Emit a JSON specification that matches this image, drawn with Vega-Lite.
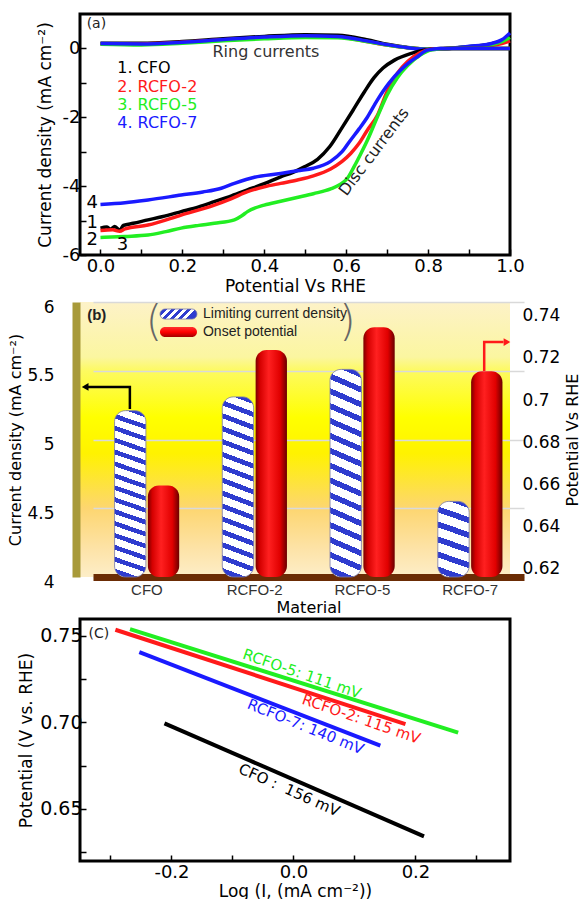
{
  "$schema": "https://vega.github.io/schema/vega-lite/v6.json",
  "padding": {"left": 7, "top": 12, "right": 0, "bottom": 0},
  "spacing": 2,
  "config": {
    "font": "DejaVu Sans",
    "view": {"stroke": null},
    "axis": {"labelFont": "DejaVu Sans", "titleFont": "DejaVu Sans", "labelColor": "black", "titleColor": "black", "titleFontWeight": "normal"}
  },
  "datasets": {
    "lsv": [
      {"s":"CFO","k":"ring","x":0,"y":0.15},{"s":"CFO","k":"ring","x":0.1,"y":0.15},{"s":"CFO","k":"ring","x":0.2,"y":0.2},{"s":"CFO","k":"ring","x":0.3,"y":0.28},{"s":"CFO","k":"ring","x":0.4,"y":0.35},{"s":"CFO","k":"ring","x":0.5,"y":0.4},{"s":"CFO","k":"ring","x":0.58,"y":0.38},{"s":"CFO","k":"ring","x":0.65,"y":0.25},{"s":"CFO","k":"ring","x":0.7,"y":0.12},{"s":"CFO","k":"ring","x":0.75,"y":0.03},{"s":"CFO","k":"ring","x":0.8,"y":-0.02},{"s":"CFO","k":"ring","x":0.85,"y":0},{"s":"CFO","k":"ring","x":0.9,"y":0.05},{"s":"CFO","k":"ring","x":0.95,"y":0.12},{"s":"CFO","k":"ring","x":0.98,"y":0.22},{"s":"CFO","k":"ring","x":1.0,"y":0.32},
      {"s":"RCFO-2","k":"ring","x":0,"y":0.13},{"s":"RCFO-2","k":"ring","x":0.1,"y":0.13},{"s":"RCFO-2","k":"ring","x":0.2,"y":0.18},{"s":"RCFO-2","k":"ring","x":0.3,"y":0.25},{"s":"RCFO-2","k":"ring","x":0.4,"y":0.31},{"s":"RCFO-2","k":"ring","x":0.5,"y":0.35},{"s":"RCFO-2","k":"ring","x":0.58,"y":0.33},{"s":"RCFO-2","k":"ring","x":0.65,"y":0.2},{"s":"RCFO-2","k":"ring","x":0.7,"y":0.1},{"s":"RCFO-2","k":"ring","x":0.75,"y":0.02},{"s":"RCFO-2","k":"ring","x":0.8,"y":-0.02},{"s":"RCFO-2","k":"ring","x":0.85,"y":0},{"s":"RCFO-2","k":"ring","x":0.9,"y":0.04},{"s":"RCFO-2","k":"ring","x":0.95,"y":0.08},{"s":"RCFO-2","k":"ring","x":0.98,"y":0.14},{"s":"RCFO-2","k":"ring","x":1.0,"y":0.22},
      {"s":"RCFO-5","k":"ring","x":0,"y":0.12},{"s":"RCFO-5","k":"ring","x":0.1,"y":0.1},{"s":"RCFO-5","k":"ring","x":0.2,"y":0.15},{"s":"RCFO-5","k":"ring","x":0.3,"y":0.22},{"s":"RCFO-5","k":"ring","x":0.4,"y":0.28},{"s":"RCFO-5","k":"ring","x":0.5,"y":0.32},{"s":"RCFO-5","k":"ring","x":0.58,"y":0.31},{"s":"RCFO-5","k":"ring","x":0.65,"y":0.2},{"s":"RCFO-5","k":"ring","x":0.7,"y":0.1},{"s":"RCFO-5","k":"ring","x":0.75,"y":0.02},{"s":"RCFO-5","k":"ring","x":0.8,"y":-0.02},{"s":"RCFO-5","k":"ring","x":0.85,"y":0},{"s":"RCFO-5","k":"ring","x":0.9,"y":0.05},{"s":"RCFO-5","k":"ring","x":0.95,"y":0.1},{"s":"RCFO-5","k":"ring","x":0.98,"y":0.2},{"s":"RCFO-5","k":"ring","x":1.0,"y":0.32},
      {"s":"RCFO-7","k":"ring","x":0,"y":0.14},{"s":"RCFO-7","k":"ring","x":0.1,"y":0.13},{"s":"RCFO-7","k":"ring","x":0.2,"y":0.18},{"s":"RCFO-7","k":"ring","x":0.3,"y":0.26},{"s":"RCFO-7","k":"ring","x":0.4,"y":0.33},{"s":"RCFO-7","k":"ring","x":0.5,"y":0.37},{"s":"RCFO-7","k":"ring","x":0.58,"y":0.35},{"s":"RCFO-7","k":"ring","x":0.65,"y":0.22},{"s":"RCFO-7","k":"ring","x":0.7,"y":0.11},{"s":"RCFO-7","k":"ring","x":0.75,"y":0.02},{"s":"RCFO-7","k":"ring","x":0.8,"y":-0.03},{"s":"RCFO-7","k":"ring","x":0.85,"y":0},{"s":"RCFO-7","k":"ring","x":0.9,"y":0.06},{"s":"RCFO-7","k":"ring","x":0.95,"y":0.13},{"s":"RCFO-7","k":"ring","x":0.98,"y":0.25},{"s":"RCFO-7","k":"ring","x":1.0,"y":0.45},
      {"s":"CFO","k":"disc","x":0,"y":-5.22},{"s":"CFO","k":"disc","x":0.015,"y":-5.19},{"s":"CFO","k":"disc","x":0.025,"y":-5.25},{"s":"CFO","k":"disc","x":0.035,"y":-5.17},{"s":"CFO","k":"disc","x":0.047,"y":-5.28},{"s":"CFO","k":"disc","x":0.056,"y":-5.14},{"s":"CFO","k":"disc","x":0.08,"y":-5.08},{"s":"CFO","k":"disc","x":0.116,"y":-4.98},{"s":"CFO","k":"disc","x":0.15,"y":-4.89},{"s":"CFO","k":"disc","x":0.197,"y":-4.74},{"s":"CFO","k":"disc","x":0.24,"y":-4.6},{"s":"CFO","k":"disc","x":0.278,"y":-4.45},{"s":"CFO","k":"disc","x":0.32,"y":-4.28},{"s":"CFO","k":"disc","x":0.359,"y":-4.11},{"s":"CFO","k":"disc","x":0.4,"y":-3.93},{"s":"CFO","k":"disc","x":0.44,"y":-3.73},{"s":"CFO","k":"disc","x":0.47,"y":-3.6},{"s":"CFO","k":"disc","x":0.498,"y":-3.44},{"s":"CFO","k":"disc","x":0.53,"y":-3.22},{"s":"CFO","k":"disc","x":0.56,"y":-2.85},{"s":"CFO","k":"disc","x":0.59,"y":-2.3},{"s":"CFO","k":"disc","x":0.619,"y":-1.75},{"s":"CFO","k":"disc","x":0.645,"y":-1.25},{"s":"CFO","k":"disc","x":0.668,"y":-0.85},{"s":"CFO","k":"disc","x":0.69,"y":-0.57},{"s":"CFO","k":"disc","x":0.718,"y":-0.34},{"s":"CFO","k":"disc","x":0.757,"y":-0.15},{"s":"CFO","k":"disc","x":0.79,"y":-0.05},{"s":"CFO","k":"disc","x":0.83,"y":0},{"s":"CFO","k":"disc","x":0.9,"y":0},{"s":"CFO","k":"disc","x":1.0,"y":0},
      {"s":"RCFO-2","k":"disc","x":0,"y":-5.29},{"s":"RCFO-2","k":"disc","x":0.03,"y":-5.27},{"s":"RCFO-2","k":"disc","x":0.047,"y":-5.31},{"s":"RCFO-2","k":"disc","x":0.06,"y":-5.24},{"s":"RCFO-2","k":"disc","x":0.116,"y":-5.13},{"s":"RCFO-2","k":"disc","x":0.197,"y":-4.84},{"s":"RCFO-2","k":"disc","x":0.278,"y":-4.55},{"s":"RCFO-2","k":"disc","x":0.32,"y":-4.36},{"s":"RCFO-2","k":"disc","x":0.359,"y":-4.16},{"s":"RCFO-2","k":"disc","x":0.4,"y":-4.02},{"s":"RCFO-2","k":"disc","x":0.44,"y":-3.92},{"s":"RCFO-2","k":"disc","x":0.481,"y":-3.82},{"s":"RCFO-2","k":"disc","x":0.52,"y":-3.7},{"s":"RCFO-2","k":"disc","x":0.562,"y":-3.5},{"s":"RCFO-2","k":"disc","x":0.59,"y":-3.28},{"s":"RCFO-2","k":"disc","x":0.611,"y":-3.05},{"s":"RCFO-2","k":"disc","x":0.632,"y":-2.75},{"s":"RCFO-2","k":"disc","x":0.652,"y":-2.37},{"s":"RCFO-2","k":"disc","x":0.676,"y":-1.95},{"s":"RCFO-2","k":"disc","x":0.7,"y":-1.25},{"s":"RCFO-2","k":"disc","x":0.725,"y":-0.72},{"s":"RCFO-2","k":"disc","x":0.75,"y":-0.38},{"s":"RCFO-2","k":"disc","x":0.78,"y":-0.13},{"s":"RCFO-2","k":"disc","x":0.81,"y":-0.02},{"s":"RCFO-2","k":"disc","x":0.85,"y":0},{"s":"RCFO-2","k":"disc","x":1.0,"y":0},
      {"s":"RCFO-5","k":"disc","x":0,"y":-5.49},{"s":"RCFO-5","k":"disc","x":0.06,"y":-5.46},{"s":"RCFO-5","k":"disc","x":0.116,"y":-5.42},{"s":"RCFO-5","k":"disc","x":0.16,"y":-5.32},{"s":"RCFO-5","k":"disc","x":0.197,"y":-5.22},{"s":"RCFO-5","k":"disc","x":0.24,"y":-5.14},{"s":"RCFO-5","k":"disc","x":0.278,"y":-5.08},{"s":"RCFO-5","k":"disc","x":0.327,"y":-4.98},{"s":"RCFO-5","k":"disc","x":0.345,"y":-4.86},{"s":"RCFO-5","k":"disc","x":0.359,"y":-4.74},{"s":"RCFO-5","k":"disc","x":0.4,"y":-4.55},{"s":"RCFO-5","k":"disc","x":0.44,"y":-4.44},{"s":"RCFO-5","k":"disc","x":0.48,"y":-4.33},{"s":"RCFO-5","k":"disc","x":0.52,"y":-4.22},{"s":"RCFO-5","k":"disc","x":0.562,"y":-4.08},{"s":"RCFO-5","k":"disc","x":0.585,"y":-3.95},{"s":"RCFO-5","k":"disc","x":0.603,"y":-3.77},{"s":"RCFO-5","k":"disc","x":0.619,"y":-3.44},{"s":"RCFO-5","k":"disc","x":0.636,"y":-3.05},{"s":"RCFO-5","k":"disc","x":0.652,"y":-2.66},{"s":"RCFO-5","k":"disc","x":0.676,"y":-1.99},{"s":"RCFO-5","k":"disc","x":0.7,"y":-1.35},{"s":"RCFO-5","k":"disc","x":0.725,"y":-0.85},{"s":"RCFO-5","k":"disc","x":0.75,"y":-0.5},{"s":"RCFO-5","k":"disc","x":0.78,"y":-0.2},{"s":"RCFO-5","k":"disc","x":0.81,"y":-0.04},{"s":"RCFO-5","k":"disc","x":0.85,"y":0},{"s":"RCFO-5","k":"disc","x":1.0,"y":0},
      {"s":"RCFO-7","k":"disc","x":0,"y":-4.53},{"s":"RCFO-7","k":"disc","x":0.06,"y":-4.48},{"s":"RCFO-7","k":"disc","x":0.116,"y":-4.4},{"s":"RCFO-7","k":"disc","x":0.197,"y":-4.26},{"s":"RCFO-7","k":"disc","x":0.25,"y":-4.17},{"s":"RCFO-7","k":"disc","x":0.295,"y":-4.06},{"s":"RCFO-7","k":"disc","x":0.327,"y":-3.92},{"s":"RCFO-7","k":"disc","x":0.376,"y":-3.74},{"s":"RCFO-7","k":"disc","x":0.44,"y":-3.63},{"s":"RCFO-7","k":"disc","x":0.481,"y":-3.55},{"s":"RCFO-7","k":"disc","x":0.52,"y":-3.48},{"s":"RCFO-7","k":"disc","x":0.562,"y":-3.28},{"s":"RCFO-7","k":"disc","x":0.59,"y":-3.0},{"s":"RCFO-7","k":"disc","x":0.611,"y":-2.66},{"s":"RCFO-7","k":"disc","x":0.632,"y":-2.33},{"s":"RCFO-7","k":"disc","x":0.652,"y":-1.99},{"s":"RCFO-7","k":"disc","x":0.676,"y":-1.5},{"s":"RCFO-7","k":"disc","x":0.705,"y":-1.0},{"s":"RCFO-7","k":"disc","x":0.733,"y":-0.63},{"s":"RCFO-7","k":"disc","x":0.755,"y":-0.4},{"s":"RCFO-7","k":"disc","x":0.774,"y":-0.24},{"s":"RCFO-7","k":"disc","x":0.798,"y":-0.05},{"s":"RCFO-7","k":"disc","x":0.83,"y":0},{"s":"RCFO-7","k":"disc","x":1.0,"y":0}
    ],
    "bars": [
      {"m":"CFO","sr":"Limiting current density","v":5.21},
      {"m":"RCFO-2","sr":"Limiting current density","v":5.31},
      {"m":"RCFO-5","sr":"Limiting current density","v":5.51},
      {"m":"RCFO-7","sr":"Limiting current density","v":4.55},
      {"m":"CFO","sr":"Onset potential","v":0.6595},
      {"m":"RCFO-2","sr":"Onset potential","v":0.7237},
      {"m":"RCFO-5","sr":"Onset potential","v":0.7345},
      {"m":"RCFO-7","sr":"Onset potential","v":0.7137}
    ],
    "tafel": [
      {"s":"CFO","x":-0.2115,"y":0.6994},{"s":"CFO","x":0.214,"y":0.6342},
      {"s":"RCFO-7","x":-0.2527,"y":0.7405},{"s":"RCFO-7","x":0.1424,"y":0.6865},
      {"s":"RCFO-2","x":-0.292,"y":0.7534},{"s":"RCFO-2","x":0.1836,"y":0.699},
      {"s":"RCFO-5","x":-0.268,"y":0.7538},{"s":"RCFO-5","x":0.27,"y":0.6941}
    ]
  },
  "vconcat": [
    {
      "width": 430,
      "height": 241,
      "view": {"stroke": "black", "strokeWidth": 3},
      "encoding": {
        "x": {"field": "x", "type": "quantitative",
          "scale": {"domain": [-0.05, 1], "nice": false, "zero": false},
          "axis": {"values": [0,0.1,0.2,0.3,0.4,0.5,0.6,0.7,0.8,0.9,1.0], "labelExpr": "abs(datum.value*5-round(datum.value*5))<0.001 ? format(datum.value,'.1f') : ''", "labelFlush": false, "labelOverlap": false, "grid": false, "domain": false, "tickSize": -6, "tickColor": "black", "tickWidth": 1.5, "labelPadding": 8, "labelFontSize": 18, "title": "Potential Vs RHE", "titleFontSize": 17, "titlePadding": 3}},
        "y": {"field": "y", "type": "quantitative",
          "scale": {"domain": [-6, 1], "nice": false, "zero": false},
          "axis": {"values": [-6,-5,-4,-3,-2,-1,0], "labelExpr": "datum.value % 2 == 0 ? replace(format(datum.value,'d'),'\u2212','-') : ''", "labelFlush": false, "labelOverlap": false, "grid": false, "domain": false, "tickSize": -6, "tickColor": "black", "tickWidth": 1.5, "labelPadding": 6, "labelFontSize": 18, "title": "Current density (mA cm\u207b\u00b2)", "titleFontSize": 17, "titlePadding": 8}}
      },
      "layer": [
        {"data": {"name": "lsv"},
         "mark": {"type": "line", "strokeWidth": 3.5, "interpolate": "monotone"},
         "encoding": {
           "color": {"field": "s", "type": "nominal", "scale": {"domain": ["CFO","RCFO-2","RCFO-5","RCFO-7"], "range": ["#000000","#ff1a1a","#22ee22","#1a1aff"]}, "legend": null},
           "detail": {"field": "k"}
         }},
        {"data": {"values": [
           {"t":"1. CFO","s":"CFO","x":0.041,"y":-0.58},
           {"t":"2. RCFO-2","s":"RCFO-2","x":0.041,"y":-1.11},
           {"t":"3. RCFO-5","s":"RCFO-5","x":0.041,"y":-1.63},
           {"t":"4. RCFO-7","s":"RCFO-7","x":0.041,"y":-2.18}]},
         "mark": {"type": "text", "align": "left", "fontSize": 16},
         "encoding": {
           "text": {"field": "t"},
           "color": {"field": "s", "type": "nominal", "scale": {"domain": ["CFO","RCFO-2","RCFO-5","RCFO-7"], "range": ["#000000","#ff1a1a","#22ee22","#1a1aff"]}, "legend": null}
         }},
        {"data": {"values": [
           {"t":"4","x":-0.02,"y":-4.5},{"t":"1","x":-0.02,"y":-5.06},{"t":"2","x":-0.02,"y":-5.55},{"t":"3","x":0.054,"y":-5.71}]},
         "mark": {"type": "text", "fontSize": 18, "color": "black"},
         "encoding": {"text": {"field": "t"}}},
        {"data": {"values": [{"t":"Ring currents","x":0.404,"y":-0.1}]},
         "mark": {"type": "text", "fontSize": 16, "color": "#333333"},
         "encoding": {"text": {"field": "t"}}},
        {"data": {"values": [{"t":"Disc currents","x":0.668,"y":-3.0}]},
         "mark": {"type": "text", "fontSize": 16, "color": "#222222", "angle": -53},
         "encoding": {"text": {"field": "t"}}},
        {"data": {"values": [{"t":"(a)","x":-0.01,"y":0.7}]},
         "mark": {"type": "text", "fontSize": 14, "color": "#222222"},
         "encoding": {"text": {"field": "t"}}}
      ]
    },
    {
      "width": 430,
      "height": 275,
      "view": {"stroke": null, "fill": {"gradient": "linear", "x1": 0, "y1": 0, "x2": 0, "y2": 1, "stops": [
        {"offset": 0, "color": "#fdf2c8"}, {"offset": 0.2, "color": "#fbf6a0"}, {"offset": 0.25, "color": "#fdfa60"}, {"offset": 0.42, "color": "#ffff00"}, {"offset": 0.55, "color": "#fff200"}, {"offset": 0.75, "color": "#fdd670"}, {"offset": 0.9, "color": "#fde3a8"}, {"offset": 1, "color": "#fdeec8"}]}},
      "resolve": {"scale": {"x": "independent", "y": "independent", "xOffset": "independent"}},
      "layer": [
        {"data": {"name": "bars"},
         "transform": [{"filter": "datum.sr == 'Limiting current density' && datum.m != 'RCFO-7'"}],
         "mark": {"type": "bar", "cornerRadius": 11, "stroke": "#7878a8", "strokeWidth": 0.8,
           "fill": {"gradient": "linear", "x1": 0.07, "y1": -0.07, "x2": 0, "y2": 1, "stops": [
             {"offset":0,"color":"#ffffff"},{"offset":0.02,"color":"#ffffff"},{"offset":0.02,"color":"#2f3ccf"},{"offset":0.0467,"color":"#2f3ccf"},{"offset":0.0467,"color":"#ffffff"},{"offset":0.0867,"color":"#ffffff"},
             {"offset":0.0867,"color":"#2f3ccf"},{"offset":0.1133,"color":"#2f3ccf"},{"offset":0.1133,"color":"#ffffff"},{"offset":0.1533,"color":"#ffffff"},
             {"offset":0.1533,"color":"#2f3ccf"},{"offset":0.18,"color":"#2f3ccf"},{"offset":0.18,"color":"#ffffff"},{"offset":0.22,"color":"#ffffff"},
             {"offset":0.22,"color":"#2f3ccf"},{"offset":0.2467,"color":"#2f3ccf"},{"offset":0.2467,"color":"#ffffff"},{"offset":0.2867,"color":"#ffffff"},
             {"offset":0.2867,"color":"#2f3ccf"},{"offset":0.3133,"color":"#2f3ccf"},{"offset":0.3133,"color":"#ffffff"},{"offset":0.3533,"color":"#ffffff"},
             {"offset":0.3533,"color":"#2f3ccf"},{"offset":0.38,"color":"#2f3ccf"},{"offset":0.38,"color":"#ffffff"},{"offset":0.42,"color":"#ffffff"},
             {"offset":0.42,"color":"#2f3ccf"},{"offset":0.4467,"color":"#2f3ccf"},{"offset":0.4467,"color":"#ffffff"},{"offset":0.4867,"color":"#ffffff"},
             {"offset":0.4867,"color":"#2f3ccf"},{"offset":0.5133,"color":"#2f3ccf"},{"offset":0.5133,"color":"#ffffff"},{"offset":0.5533,"color":"#ffffff"},
             {"offset":0.5533,"color":"#2f3ccf"},{"offset":0.58,"color":"#2f3ccf"},{"offset":0.58,"color":"#ffffff"},{"offset":0.62,"color":"#ffffff"},
             {"offset":0.62,"color":"#2f3ccf"},{"offset":0.6467,"color":"#2f3ccf"},{"offset":0.6467,"color":"#ffffff"},{"offset":0.6867,"color":"#ffffff"},
             {"offset":0.6867,"color":"#2f3ccf"},{"offset":0.7133,"color":"#2f3ccf"},{"offset":0.7133,"color":"#ffffff"},{"offset":0.7533,"color":"#ffffff"},
             {"offset":0.7533,"color":"#2f3ccf"},{"offset":0.78,"color":"#2f3ccf"},{"offset":0.78,"color":"#ffffff"},{"offset":0.82,"color":"#ffffff"},
             {"offset":0.82,"color":"#2f3ccf"},{"offset":0.8467,"color":"#2f3ccf"},{"offset":0.8467,"color":"#ffffff"},{"offset":0.8867,"color":"#ffffff"},
             {"offset":0.8867,"color":"#2f3ccf"},{"offset":0.9133,"color":"#2f3ccf"},{"offset":0.9133,"color":"#ffffff"},{"offset":0.9533,"color":"#ffffff"},
             {"offset":0.9533,"color":"#2f3ccf"},{"offset":0.98,"color":"#2f3ccf"},{"offset":0.98,"color":"#ffffff"},{"offset":1,"color":"#ffffff"}]}},
         "encoding": {
           "x": {"field": "m", "type": "nominal", "scale": {"domain": ["CFO","RCFO-2","RCFO-5","RCFO-7"], "range": [13, 444], "paddingInner": 0.4, "paddingOuter": 0.2},
             "axis": {"title": "Material", "labelAngle": 0, "labelFont": "Liberation Sans", "labelFontSize": 15, "labelColor": "#333333", "ticks": false, "domainColor": "#6b2c05", "domainWidth": 7, "labelPadding": 5, "titleFontSize": 16, "titlePadding": 2}},
           "xOffset": {"field": "sr", "scale": {"domain": ["Limiting current density","Onset potential"], "paddingInner": 0.06}},
           "y": {"field": "v", "type": "quantitative", "scale": {"domain": [4, 6], "nice": false, "zero": false},
             "axis": {"orient": "left", "values": [4,4.5,5,5.5,6], "format": "~g", "grid": true, "gridColor": "#d9d9d9", "gridWidth": 1.5, "ticks": false, "domainColor": "#a89a3a", "domainWidth": 8, "offset": 4, "labelPadding": 22, "labelOffset": 5, "labelFontSize": 17, "title": "Current density (mA cm\u207b\u00b2)", "titleFontSize": 16, "titlePadding": 3}},
           "y2": {"datum": 4}
         }},
        {"data": {"name": "bars"},
         "transform": [{"filter": "datum.sr == 'Limiting current density' && datum.m == 'RCFO-7'"}],
         "mark": {"type": "bar", "cornerRadius": 11, "stroke": "#7878a8", "strokeWidth": 0.8,
           "fill": {"gradient": "linear", "x1": 0.17, "y1": -0.17, "x2": 0, "y2": 1, "stops": [
             {"offset":0,"color":"#ffffff"},{"offset":0.05,"color":"#ffffff"},{"offset":0.05,"color":"#2f3ccf"},{"offset":0.1167,"color":"#2f3ccf"},{"offset":0.1167,"color":"#ffffff"},{"offset":0.2167,"color":"#ffffff"},
             {"offset":0.2167,"color":"#2f3ccf"},{"offset":0.2833,"color":"#2f3ccf"},{"offset":0.2833,"color":"#ffffff"},{"offset":0.3833,"color":"#ffffff"},
             {"offset":0.3833,"color":"#2f3ccf"},{"offset":0.45,"color":"#2f3ccf"},{"offset":0.45,"color":"#ffffff"},{"offset":0.55,"color":"#ffffff"},
             {"offset":0.55,"color":"#2f3ccf"},{"offset":0.6167,"color":"#2f3ccf"},{"offset":0.6167,"color":"#ffffff"},{"offset":0.7167,"color":"#ffffff"},
             {"offset":0.7167,"color":"#2f3ccf"},{"offset":0.7833,"color":"#2f3ccf"},{"offset":0.7833,"color":"#ffffff"},{"offset":0.8833,"color":"#ffffff"},
             {"offset":0.8833,"color":"#2f3ccf"},{"offset":0.95,"color":"#2f3ccf"},{"offset":0.95,"color":"#ffffff"},{"offset":1,"color":"#ffffff"}]}},
         "encoding": {
           "x": {"field": "m", "type": "nominal", "scale": {"domain": ["CFO","RCFO-2","RCFO-5","RCFO-7"], "range": [13, 444], "paddingInner": 0.4, "paddingOuter": 0.2}, "axis": null},
           "xOffset": {"field": "sr", "scale": {"domain": ["Limiting current density","Onset potential"], "paddingInner": 0.06}},
           "y": {"field": "v", "type": "quantitative", "scale": {"domain": [4, 6], "nice": false, "zero": false}, "axis": null},
           "y2": {"datum": 4}
         }},
        {"data": {"name": "bars"},
         "transform": [{"filter": "datum.sr == 'Onset potential'"}],
         "mark": {"type": "bar", "cornerRadius": 11,
           "fill": {"gradient": "linear", "x1": 0, "y1": 0, "x2": 1, "y2": 0, "stops": [
             {"offset": 0, "color": "#7a0000"}, {"offset": 0.14, "color": "#d40000"}, {"offset": 0.42, "color": "#ff2020"}, {"offset": 0.78, "color": "#e00000"}, {"offset": 1, "color": "#6a0000"}]}},
         "encoding": {
           "x": {"field": "m", "type": "nominal", "scale": {"domain": ["CFO","RCFO-2","RCFO-5","RCFO-7"], "range": [13, 444], "paddingInner": 0.4, "paddingOuter": 0.2}, "axis": null},
           "xOffset": {"field": "sr", "scale": {"domain": ["Limiting current density","Onset potential"], "paddingInner": 0.06}},
           "y": {"field": "v", "type": "quantitative", "scale": {"domain": [0.6162, 0.7465], "nice": false, "zero": false},
             "axis": {"orient": "right", "values": [0.62,0.64,0.66,0.68,0.7,0.72,0.74], "format": "~g", "grid": false, "ticks": false, "domain": false, "labelPadding": 12, "labelFontSize": 17, "title": "Potential Vs RHE", "titleFontSize": 16, "titlePadding": 5, "titleAngle": 270, "titleBaseline": "top"}},
           "y2": {"datum": 0.6162}
         }},
        {"data": {"values": [
           {"g":"blue","o":1,"x":0.116,"y":5.222},{"g":"blue","o":2,"x":0.116,"y":5.382},{"g":"blue","o":3,"x":0.015,"y":5.382},
           {"g":"red","o":1,"x":0.94,"y":5.498},{"g":"red","o":2,"x":0.94,"y":5.709},{"g":"red","o":3,"x":0.985,"y":5.709}]},
         "mark": {"type": "line", "strokeWidth": 2.5},
         "encoding": {
           "x": {"field": "x", "type": "quantitative", "scale": {"domain": [0, 1], "nice": false, "zero": false}, "axis": null},
           "y": {"field": "y", "type": "quantitative", "scale": {"domain": [4, 6], "nice": false, "zero": false}, "axis": null},
           "color": {"field": "g", "type": "nominal", "scale": {"domain": ["blue","red"], "range": ["#3a6896","#ff0000"]}, "legend": null},
           "order": {"field": "o"}
         }},
        {"data": {"values": [
           {"g":"blue","sh":"triangle-left","x":0.012,"y":5.382},
           {"g":"red","sh":"triangle-right","x":0.993,"y":5.709}]},
         "mark": {"type": "point", "filled": true, "opacity": 1, "size": 60},
         "encoding": {
           "x": {"field": "x", "type": "quantitative", "scale": {"domain": [0, 1], "nice": false, "zero": false}, "axis": null},
           "y": {"field": "y", "type": "quantitative", "scale": {"domain": [4, 6], "nice": false, "zero": false}, "axis": null},
           "color": {"field": "g", "type": "nominal", "scale": {"domain": ["blue","red"], "range": ["#3a6896","#ff0000"]}, "legend": null},
           "shape": {"field": "sh", "type": "nominal", "scale": {"domain": ["triangle-left","triangle-right"], "range": ["triangle-left","triangle-right"]}, "legend": null}
         }},
        {"data": {"values": [{"x":0.186,"x2":0.272,"y":5.876,"y2":5.949}]},
         "mark": {"type": "rect", "cornerRadius": 5, "stroke": "#7878a8", "strokeWidth": 0.8,
           "fill": {"gradient": "linear", "x1": 0, "y1": 0, "x2": 1, "y2": 0.27, "stops": [
             {"offset":0,"color":"#ffffff"},{"offset":0.1,"color":"#ffffff"},{"offset":0.1,"color":"#2f3ccf"},{"offset":0.2,"color":"#2f3ccf"},
             {"offset":0.2,"color":"#ffffff"},{"offset":0.3,"color":"#ffffff"},{"offset":0.3,"color":"#2f3ccf"},{"offset":0.4,"color":"#2f3ccf"},
             {"offset":0.4,"color":"#ffffff"},{"offset":0.5,"color":"#ffffff"},{"offset":0.5,"color":"#2f3ccf"},{"offset":0.6,"color":"#2f3ccf"},
             {"offset":0.6,"color":"#ffffff"},{"offset":0.7,"color":"#ffffff"},{"offset":0.7,"color":"#2f3ccf"},{"offset":0.8,"color":"#2f3ccf"},
             {"offset":0.8,"color":"#ffffff"},{"offset":0.9,"color":"#ffffff"},{"offset":0.9,"color":"#2f3ccf"},{"offset":1,"color":"#2f3ccf"}]}},
         "encoding": {
           "x": {"field": "x", "type": "quantitative", "scale": {"domain": [0, 1], "nice": false, "zero": false}, "axis": null},
           "x2": {"field": "x2"},
           "y": {"field": "y", "type": "quantitative", "scale": {"domain": [4, 6], "nice": false, "zero": false}, "axis": null},
           "y2": {"field": "y2"}
         }},
        {"data": {"values": [{"x":0.186,"x2":0.272,"y":5.745,"y2":5.818}]},
         "mark": {"type": "rect", "cornerRadius": 5,
           "fill": {"gradient": "linear", "x1": 0, "y1": 0, "x2": 0, "y2": 1, "stops": [
             {"offset": 0, "color": "#ff3030"}, {"offset": 0.5, "color": "#ff0000"}, {"offset": 1, "color": "#a00000"}]}},
         "encoding": {
           "x": {"field": "x", "type": "quantitative", "scale": {"domain": [0, 1], "nice": false, "zero": false}, "axis": null},
           "x2": {"field": "x2"},
           "y": {"field": "y", "type": "quantitative", "scale": {"domain": [4, 6], "nice": false, "zero": false}, "axis": null},
           "y2": {"field": "y2"}
         }},
        {"data": {"values": [
           {"t":"Limiting current density","x":0.286,"y":5.913},
           {"t":"Onset potential","x":0.286,"y":5.782}]},
         "mark": {"type": "text", "align": "left", "fontSize": 14, "font": "Liberation Sans", "color": "#222222"},
         "encoding": {
           "x": {"field": "x", "type": "quantitative", "scale": {"domain": [0, 1], "nice": false, "zero": false}, "axis": null},
           "y": {"field": "y", "type": "quantitative", "scale": {"domain": [4, 6], "nice": false, "zero": false}, "axis": null},
           "text": {"field": "t"}
         }},
        {"data": {"values": [
           {"t":"(","x":0.172,"y":5.85},
           {"t":")","x":0.622,"y":5.85}]},
         "mark": {"type": "text", "fontSize": 42, "font": "DejaVu Sans", "fontWeight": 200, "color": "#666666"},
         "encoding": {
           "x": {"field": "x", "type": "quantitative", "scale": {"domain": [0, 1], "nice": false, "zero": false}, "axis": null},
           "y": {"field": "y", "type": "quantitative", "scale": {"domain": [4, 6], "nice": false, "zero": false}, "axis": null},
           "text": {"field": "t"}
         }},
        {"data": {"values": [{"t":"(b)","x":0.039,"y":5.908}]},
         "mark": {"type": "text", "fontSize": 15, "fontWeight": "bold", "font": "Liberation Sans", "color": "#222222"},
         "encoding": {
           "x": {"field": "x", "type": "quantitative", "scale": {"domain": [0, 1], "nice": false, "zero": false}, "axis": null},
           "y": {"field": "y", "type": "quantitative", "scale": {"domain": [4, 6], "nice": false, "zero": false}, "axis": null},
           "text": {"field": "t"}
         }}
      ]
    },
    {
      "width": 430,
      "height": 242,
      "view": {"stroke": "black", "strokeWidth": 3},
      "encoding": {
        "x": {"field": "x", "type": "quantitative",
          "scale": {"domain": [-0.35, 0.355], "nice": false, "zero": false},
          "axis": {"values": [-0.3,-0.2,-0.1,0,0.1,0.2,0.3], "labelExpr": "abs(datum.value*5-round(datum.value*5))<0.001 ? replace(format(datum.value,'.1f'),'\u2212','-') : ''", "labelFlush": false, "labelOverlap": false, "grid": false, "domain": false, "tickSize": -6, "tickColor": "black", "tickWidth": 1.5, "labelPadding": 8, "labelFontSize": 18, "title": "Log (I, (mA cm\u207b\u00b2))", "titleFontSize": 17, "titlePadding": 2}},
        "y": {"field": "y", "type": "quantitative",
          "scale": {"domain": [0.62, 0.7596], "nice": false, "zero": false},
          "axis": {"values": [0.625,0.65,0.675,0.7,0.725,0.75], "labelExpr": "abs(datum.value*20-round(datum.value*20))<0.001 ? format(datum.value,'.2f') : ''", "labelFlush": false, "labelOverlap": false, "grid": false, "domain": false, "tickSize": -6, "tickColor": "black", "tickWidth": 1.5, "labelPadding": 4, "labelFontSize": 19, "title": "Potential (V vs. RHE)", "titleFontSize": 17, "titlePadding": 4}}
      },
      "layer": [
        {"data": {"name": "tafel"},
         "mark": {"type": "line", "strokeWidth": 4},
         "encoding": {
           "color": {"field": "s", "type": "nominal", "scale": {"domain": ["CFO","RCFO-2","RCFO-5","RCFO-7"], "range": ["#000000","#ff1a1a","#22ee22","#1a1aff"]}, "legend": null}
         }},
        {"data": {"values": [{"t":"RCFO-5: 111 mV","x":0.014,"y":0.728}]},
         "mark": {"type": "text", "fontSize": 15, "color": "#22ee22", "angle": 19},
         "encoding": {"text": {"field": "t"}}},
        {"data": {"values": [{"t":"RCFO-2: 115 mV","x":0.111,"y":0.702}]},
         "mark": {"type": "text", "fontSize": 15, "color": "#ff1a1a", "angle": 19},
         "encoding": {"text": {"field": "t"}}},
        {"data": {"values": [{"t":"RCFO-7: 140 mV","x":0.02,"y":0.6975}]},
         "mark": {"type": "text", "fontSize": 15, "color": "#1a1aff", "angle": 22},
         "encoding": {"text": {"field": "t"}}},
        {"data": {"values": [{"t":"CFO :\u00a0\u00a0156 mV","x":-0.007,"y":0.661}]},
         "mark": {"type": "text", "fontSize": 15, "color": "#000000", "angle": 24},
         "encoding": {"text": {"field": "t"}}},
        {"data": {"values": [{"t":"(C)","x":-0.319,"y":0.751}]},
         "mark": {"type": "text", "fontSize": 14, "color": "#222222"},
         "encoding": {"text": {"field": "t"}}}
      ]
    }
  ]
}
